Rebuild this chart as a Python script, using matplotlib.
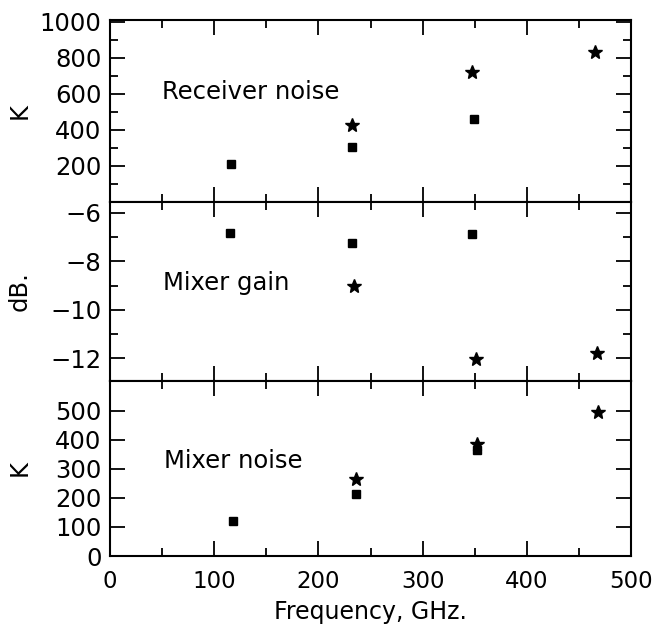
import matplotlib
matplotlib.use("Agg")
import matplotlib.pyplot as plt
from matplotlib.ticker import MultipleLocator

plt.rcParams['font.family'] = ['DejaVu Sans']

# Receiver noise (K)
rx_sq_f = [116, 232, 349]
rx_sq_v = [211, 306, 461]
rx_st_f = [232, 347, 465]
rx_st_v = [428, 722, 833]

# Mixer gain (dB)
mg_sq_f = [115, 232, 347]
mg_sq_v = [-6.83, -7.24, -6.87]
mg_st_f = [234, 351, 467]
mg_st_v = [-9.02, -12.03, -11.79]

# Mixer noise (K)
mn_sq_f = [118, 236, 352]
mn_sq_v = [120, 212, 365]
mn_st_f = [236, 352, 468]
mn_st_v = [264, 385, 497]

W, H = 661, 624
fig = plt.figure(figsize=(W / 100, H / 100), dpi=100)

left = 110 / W
width = 521 / W

def ax_at(top_px, bot_px):
    return fig.add_axes([left, (H - bot_px) / H, width, (bot_px - top_px) / H])

ax1 = ax_at(20, 202)
ax2 = ax_at(202, 381)
ax3 = ax_at(381, 556)

FS = 16.5
YFS = 17.5
TFS = 17.5
for ax in (ax1, ax2, ax3):
    ax.set_xlim(0, 500)
    ax.xaxis.set_major_locator(MultipleLocator(100))
    ax.xaxis.set_minor_locator(MultipleLocator(50))
    ax.tick_params(which='both', direction='in', top=True, bottom=True,
                   left=True, right=True, width=1.3, colors='black')
    ax.tick_params(which='major', length=11, labelsize=FS, pad=6)
    ax.tick_params(axis='y', which='major', labelsize=YFS, pad=6)
    ax.tick_params(which='minor', length=5.5)
    for s in ax.spines.values():
        s.set_linewidth(1.5)
    ax.set_facecolor('white')

sq_kw = dict(marker='s', color='black', markersize=6, linestyle='none')
st_kw = dict(marker='*', color='black', markersize=10, linestyle='none')

# Top panel
ax1.plot(rx_sq_f, rx_sq_v, **sq_kw)
ax1.plot(rx_st_f, rx_st_v, **st_kw)
ax1.set_ylim(0, 1010)
ax1.set_yticks([200, 400, 600, 800, 1000])
ax1.yaxis.set_minor_locator(MultipleLocator(100))
ax1.tick_params(labelbottom=False)
ax1.set_ylabel('K', fontsize=YFS)
ax1.text(50, 611, 'Receiver noise', fontsize=TFS, va='center', ha='left')

# Middle panel
ax2.plot(mg_sq_f, mg_sq_v, **sq_kw)
ax2.plot(mg_st_f, mg_st_v, **st_kw)
ax2.set_ylim(-12.95, -5.545)
ax2.set_yticks([-12, -10, -8, -6])
ax2.set_yticklabels(['\u221212', '\u221210', '\u22128', '\u22126'])
ax2.yaxis.set_minor_locator(MultipleLocator(1))
ax2.tick_params(labelbottom=False)
ax2.set_ylabel('dB.', fontsize=YFS)
ax2.text(51, -8.9, 'Mixer gain', fontsize=TFS, va='center', ha='left')

# Bottom panel
ax3.plot(mn_sq_f, mn_sq_v, **sq_kw)
ax3.plot(mn_st_f, mn_st_v, **st_kw)
ax3.set_ylim(0, 603)
ax3.set_yticks([0, 100, 200, 300, 400, 500])
ax3.tick_params(axis='x', which='major', pad=10)
ax3.set_ylabel('K', fontsize=YFS)
ax3.set_xlabel('Frequency, GHz.', fontsize=17, labelpad=5)
ax3.text(52, 326, 'Mixer noise', fontsize=TFS, va='center', ha='left')

for ax in (ax1, ax2, ax3):
    ax.yaxis.set_label_coords(-(110 - 32) / 521, 0.5)

fig.savefig('out.png', dpi=100, facecolor='white')
